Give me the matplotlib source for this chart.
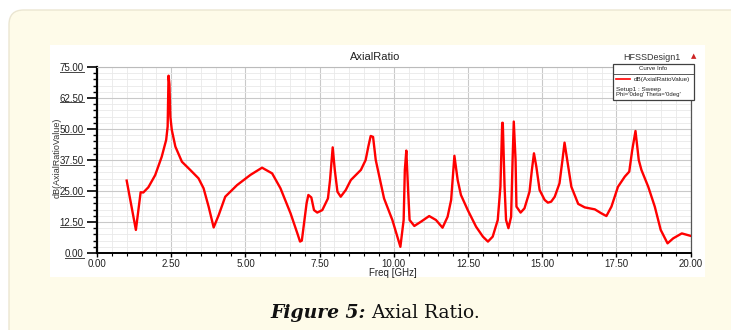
import numpy as np
import matplotlib.pyplot as plt
from matplotlib.patches import FancyBboxPatch, Rectangle
from matplotlib.lines import Line2D
from matplotlib.ticker import MultipleLocator, FormatStrFormatter

# axial ratio curve (GHz, dB)
freq = [1.00, 1.31, 1.47, 1.56, 1.73, 1.96, 2.18, 2.33, 2.38, 2.41, 2.44, 2.47,
        2.52, 2.64, 2.86, 3.14, 3.42, 3.59, 3.76, 3.93, 4.10, 4.32, 4.72, 5.17,
        5.56, 5.90, 6.18, 6.52, 6.75, 6.84, 6.90, 7.06, 7.12, 7.22, 7.31, 7.42,
        7.59, 7.78, 7.85, 7.94, 8.01, 8.10, 8.21, 8.38, 8.55, 8.89, 9.05, 9.14,
        9.22, 9.30, 9.39, 9.67, 9.95, 10.22, 10.33, 10.37, 10.42, 10.48, 10.53,
        10.69, 10.91, 11.19, 11.42, 11.64, 11.81, 11.93, 12.04, 12.15, 12.26,
        12.49, 12.77, 13.00, 13.17, 13.33, 13.50, 13.59, 13.65, 13.67, 13.73,
        13.78, 13.86, 13.95, 14.00, 14.04, 14.10, 14.13, 14.27, 14.40, 14.57,
        14.65, 14.72, 14.80, 14.91, 15.08, 15.19, 15.30, 15.42, 15.58, 15.68,
        15.75, 15.84, 15.98, 16.21, 16.43, 16.77, 16.99, 17.16, 17.33, 17.55,
        17.78, 17.93, 18.03, 18.14, 18.25, 18.34, 18.57, 18.79, 18.99, 19.22,
        19.41, 19.70, 20.00]
ar_db = [29.2, 9.3, 24.5, 24.4, 26.5, 31.4, 38.8, 45.6, 51.0, 71.5, 68.0, 55.0,
         49.6, 42.9, 36.8, 33.5, 30.1, 26.1, 18.7, 10.3, 15.3, 22.7, 27.4, 31.5,
         34.4, 32.1, 26.1, 16.0, 7.9, 4.6, 5.0, 20.0, 23.4, 22.4, 17.3, 16.3,
         17.3, 22.0, 29.4, 42.6, 33.5, 24.7, 22.7, 25.4, 29.4, 33.5, 37.5, 42.9,
         47.2, 46.8, 37.5, 22.0, 13.3, 2.5, 13.3, 33.5, 41.3, 25.4, 13.3,
         10.9, 12.6, 14.9, 13.3, 10.2, 14.6, 21.4, 39.2, 29.4, 23.4,
         17.3, 10.6, 6.6, 4.6, 6.6, 13.3, 26.7, 52.5, 52.5, 26.7,
         13.3, 10.0, 14.6, 37.5, 53.0, 37.5, 18.7, 16.3, 18.0, 24.7,
         33.5, 40.2, 34.8, 25.4, 21.4, 20.3, 20.7, 22.7, 28.1, 37.5,
         44.5, 37.5, 26.7, 19.8, 18.4, 17.6, 16.0, 14.9, 18.7, 26.7,
         30.8, 32.8, 41.5, 49.2, 37.5, 33.5, 26.7, 18.7, 9.3, 3.9,
         5.9, 7.9, 6.9]

W, H = 731, 330

def fx(px):
    return px / W

def fy(py):
    return 1 - py / H

plt.rcParams['font.family'] = ['Liberation Sans', 'DejaVu Sans']

fig = plt.figure(figsize=(W / 100, H / 100), dpi=100)
fig.patch.set_facecolor('white')

# page panel and the white screenshot area
panel = FancyBboxPatch((fx(9), fy(345)), fx(745) - fx(9), fy(10) - fy(345),
                       boxstyle='round,pad=0,rounding_size=0.02', mutation_aspect=W / H,
                       transform=fig.transFigure, facecolor='#fefbe9', edgecolor='#ebe6d2',
                       lw=1.0, zorder=-3)
fig.add_artist(panel)
fig.add_artist(Rectangle((fx(50), fy(277)), fx(705) - fx(50), fy(45) - fy(277),
                         transform=fig.transFigure, facecolor='white', edgecolor='none', zorder=-2))

ax = fig.add_axes([fx(97), fy(253), fx(690.7) - fx(97), fy(67) - fy(253)])
ax.plot(freq, ar_db, color='#ff0000', lw=1.7, solid_joinstyle='round', zorder=3)

ax.set_xlim(0, 20)
ax.set_ylim(0, 75)
ax.xaxis.set_major_locator(MultipleLocator(2.5))
ax.xaxis.set_minor_locator(MultipleLocator(0.5))
ax.yaxis.set_major_locator(MultipleLocator(12.5))
ax.yaxis.set_minor_locator(MultipleLocator(2.5))
ax.xaxis.set_major_formatter(FormatStrFormatter('%.2f'))
ax.yaxis.set_major_formatter(FormatStrFormatter('%.2f'))
ax.grid(which='major', color='#c9c9c9', lw=0.8)
ax.grid(which='minor', color='#e9e9e9', lw=0.6)
ax.set_axisbelow(True)

ax.tick_params(axis='y', which='major', length=7, width=1.2, labelsize=7, pad=2.5, labelcolor='#222222')
ax.tick_params(axis='y', which='minor', length=3, width=1.0)
ax.tick_params(axis='x', which='major', length=3, width=1.0, labelsize=7, pad=1.0, labelcolor='#222222')
ax.tick_params(axis='x', which='minor', length=2, width=0.8)

ax.spines['left'].set_linewidth(1.6)
ax.spines['bottom'].set_linewidth(1.4)
ax.spines['top'].set_color('#bbbbbb')
ax.spines['top'].set_linewidth(0.8)
ax.spines['right'].set_color('#555555')
ax.spines['right'].set_linewidth(0.9)

fig.text(fx(375), fy(57), 'AxialRatio', ha='center', va='center', fontsize=8, color='#222222')
fig.text(fx(57), fy(158), 'dB(AxialRatioValue)', rotation=90, ha='center', va='center',
         fontsize=6.5, color='#333333')
fig.text(fx(393), fy(272.5), 'Freq [GHz]', ha='center', va='center', fontsize=7, color='#222222')
fig.text(fx(681), fy(57), 'HFSSDesign1', ha='right', va='center', fontsize=6.5, color='#333333')
fig.text(fx(694), fy(56), '\u25b2', ha='center', va='center', fontsize=5, color='#cc2222',
         family='DejaVu Sans')

# curve info box
fig.add_artist(Rectangle((fx(613), fy(100)), fx(694) - fx(613), fy(64) - fy(100),
                         transform=fig.transFigure, facecolor='white', edgecolor='#404040',
                         lw=0.9, zorder=5))
fig.add_artist(Line2D([fx(613), fx(694)], [fy(74.3), fy(74.3)], transform=fig.transFigure,
                      color='#404040', lw=0.6, zorder=6))
fig.text(fx(653.5), fy(69), 'Curve Info', ha='center', va='center', fontsize=4.4, color='#222222', zorder=6)
fig.add_artist(Line2D([fx(616), fx(630)], [fy(79.3), fy(79.3)], transform=fig.transFigure,
                      color='#ff0000', lw=1.2, zorder=6))
fig.text(fx(634), fy(79.3), 'dB(AxialRatioValue)', ha='left', va='center', fontsize=4.6,
         color='#222222', zorder=6)
fig.text(fx(615.5), fy(89.3), 'Setup1 : Sweep', ha='left', va='center', fontsize=4.6,
         color='#222222', zorder=6)
fig.text(fx(615.5), fy(94.5), "Phi='0deg' Theta='0deg'", ha='left', va='center', fontsize=4.3,
         color='#222222', zorder=6)

# caption, two styles side by side
cap1 = fig.text(fx(270.7), fy(318.5), 'Figure 5:', ha='left', va='baseline', fontsize=13.5,
                fontweight='bold', style='italic', family='DejaVu Serif', color='#111111')

fig.canvas.draw()
renderer = fig.canvas.get_renderer()

bb = cap1.get_window_extent(renderer)
fig.text((bb.x1 + 5) / W, fy(318.5), 'Axial Ratio.', ha='left', va='baseline', fontsize=13.5,
         family='DejaVu Serif', color='#111111')

# HFSS draws the value labels underlined
for val, lab in zip(ax.get_yticks(), ax.get_yticklabels()):
    if val < 0 or val > 75 or not lab.get_text():
        continue
    lb = lab.get_window_extent(renderer)
    fig.add_artist(Line2D([lb.x0 / W, lb.x1 / W], [(lb.y0 + 1.5) / H] * 2, transform=fig.transFigure,
                          color='#444444', lw=0.7))

fig.savefig('out.png', dpi=100)
